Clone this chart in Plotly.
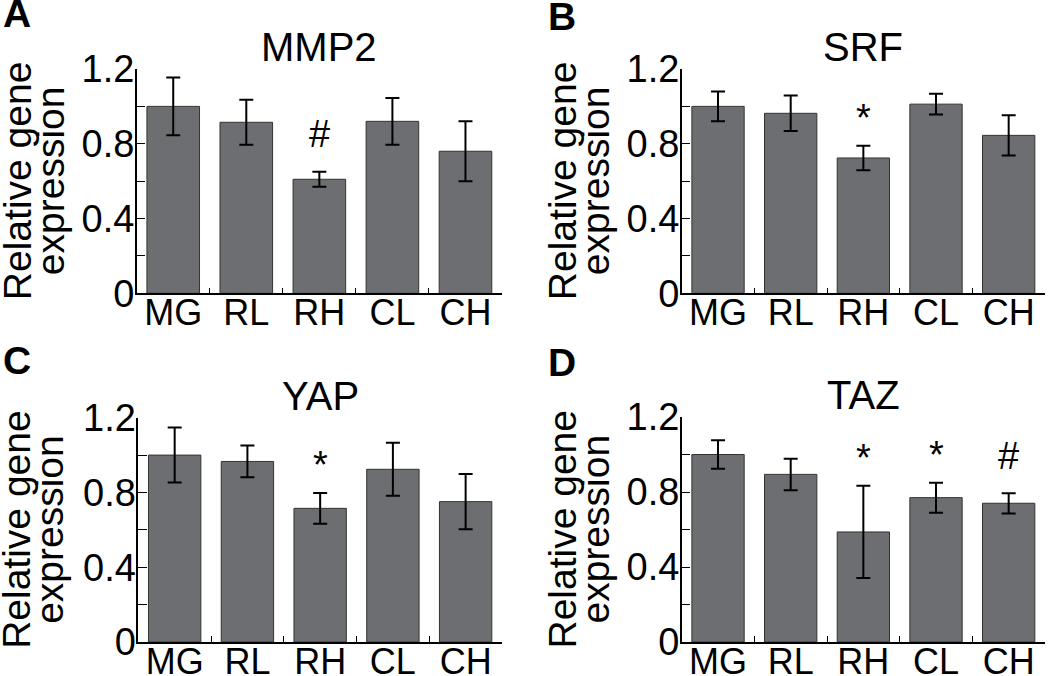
import plotly.graph_objects as go

W, H = 1050, 676

categories = ["MG", "RL", "RH", "CL", "CH"]
genes = ["MMP2", "SRF", "YAP", "TAZ"]
panel_letters = ["A", "B", "C", "D"]

mmp2 = [1.00, 0.915, 0.61, 0.92, 0.76]
mmp2_err = [0.155, 0.12, 0.04, 0.125, 0.16]
srf = [1.00, 0.963, 0.724, 1.012, 0.845]
srf_err = [0.08, 0.095, 0.066, 0.056, 0.108]
yap = [1.00, 0.966, 0.715, 0.924, 0.751]
yap_err = [0.147, 0.085, 0.082, 0.142, 0.148]
taz = [1.00, 0.894, 0.587, 0.770, 0.740]
taz_err = [0.076, 0.084, 0.246, 0.080, 0.054]

mmp2_sig = ["", "", "#", "", ""]
srf_sig = ["", "", "*", "", ""]
yap_sig = ["", "", "*", "", ""]
taz_sig = ["", "", "*", "*", "#"]

values = [mmp2, srf, yap, taz]
errors = [mmp2_err, srf_err, yap_err, taz_err]
sigs = [mmp2_sig, srf_sig, yap_sig, taz_sig]

y_ticks = [0, 0.4, 0.8, 1.2]
y_tick_text = ["0", "0.4", "0.8", "1.2"]

FONT = "Liberation Sans, Arial, sans-serif"
BAR = "#6d6e71"

# plot-area pixel boxes: (left, right, top, bottom)
boxes = [
    (136.7, 502.0, 69.0, 293.3),
    (681.7, 1045.0, 69.0, 293.3),
    (138.3, 502.0, 417.7, 642.0),
    (681.7, 1045.0, 417.0, 642.0),
]
letter_pos = [(17, 14), (562, 16), (17, 360), (562, 362)]

def px(x):
    return x / W

def py(y):
    return 1 - y / H

fig = go.Figure()
annotations = []

for i in range(4):
    xa = "x" if i == 0 else f"x{i+1}"
    ya = "y" if i == 0 else f"y{i+1}"
    fig.add_trace(go.Bar(
        x=categories, y=values[i], xaxis=xa, yaxis=ya,
        width=0.72,
        marker=dict(color=BAR, line=dict(color="#333333", width=1)),
        error_y=dict(type="data", array=errors[i], visible=True,
                     color="black", thickness=2, width=7),
        showlegend=False, hoverinfo="skip",
    ))
    l, r, t, b = boxes[i]
    xkey = "xaxis" if i == 0 else f"xaxis{i+1}"
    ykey = "yaxis" if i == 0 else f"yaxis{i+1}"
    fig.update_layout({
        xkey: dict(
            domain=[px(l), px(r)], anchor=ya, type="category", automargin=False,
            range=[-0.5, 4.5], showline=True, linecolor="black", linewidth=1.5,
            ticks="inside", tickson="boundaries", ticklen=6, tickwidth=1.3,
            tickcolor="black", showgrid=False, zeroline=False,
            ticklabelstandoff=-13,
            tickfont=dict(family=FONT, size=36, color="black"),
            fixedrange=True,
        ),
        ykey: dict(
            domain=[py(b), py(t)], anchor=xa, range=[0, 1.2], automargin=False,
            showline=True, linecolor="black", linewidth=1.5,
            ticks="inside", ticklen=9, tickwidth=1.3, tickcolor="black",
            tickvals=y_ticks, ticktext=y_tick_text,
            minor=dict(ticks="inside", dtick=0.2, ticklen=9, tickwidth=1.3,
                       tickcolor="black", showgrid=False),
            showgrid=False, zeroline=False,
            ticklabelstandoff=-7,
            tickfont=dict(family=FONT, size=38, color="black"),
            fixedrange=True,
        ),
    })
    # gene title
    annotations.append(dict(
        text=genes[i], x=px((l + r) / 2), y=py(t - 22), xref="paper", yref="paper",
        showarrow=False, xanchor="center", yanchor="middle",
        font=dict(family=FONT, size=40, color="black"),
    ))
    # y-axis title (two lines)
    yc = py((t + b) / 2)
    xoff = 0 if i % 2 == 0 else 545
    for txt, xp in (("Relative gene", 17), ("expression", 50)):
        annotations.append(dict(
            text=txt, x=px(xp + xoff), y=yc, xref="paper", yref="paper",
            showarrow=False, xanchor="center", yanchor="middle", textangle=-90,
            font=dict(family=FONT, size=39, color="black"),
        ))
    # panel letter
    lx, ly = letter_pos[i]
    annotations.append(dict(
        text="<b>%s</b>" % panel_letters[i], x=px(lx), y=py(ly),
        xref="paper", yref="paper", showarrow=False,
        xanchor="center", yanchor="middle",
        font=dict(family=FONT, size=39, color="black"),
    ))
    # significance marks
    for c, v, e, s in zip(categories, values[i], errors[i], sigs[i]):
        if s:
            yv = v + e + 0.2 - (0.05 if s == "*" else 0)
            annotations.append(dict(
                text=s, x=c, y=yv, xref=xa, yref=ya, showarrow=False,
                xanchor="center", yanchor="middle",
                font=dict(family=FONT, size=38, color="black"),
            ))

fig.update_layout(
    width=W, height=H, margin=dict(l=0, r=0, t=0, b=0, autoexpand=False),
    paper_bgcolor="white", plot_bgcolor="white",
    annotations=annotations, bargap=0.28,
)

fig.write_html(
    "out.html",
    config={"displayModeBar": False},
    post_script="document.body.style.margin='0';document.body.style.overflow='hidden';",
)
